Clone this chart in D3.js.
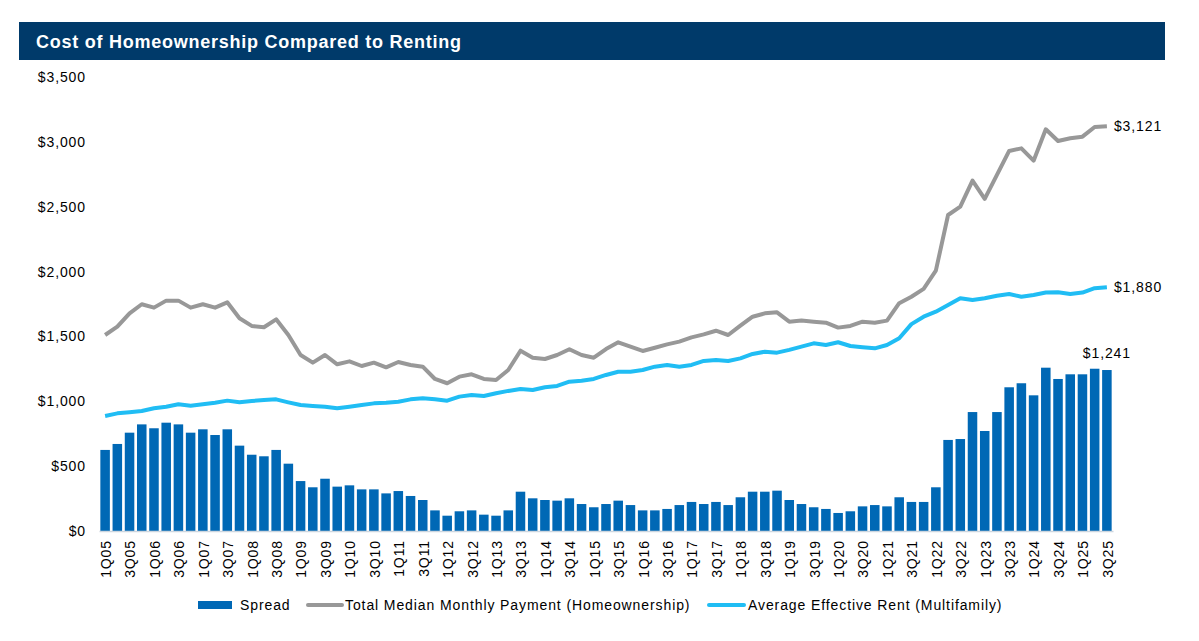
<!DOCTYPE html>
<html>
<head>
<meta charset="utf-8">
<script src="https://cdn.jsdelivr.net/npm/d3@7"></script>
<style>
  body { margin: 0; background: #fff; }
  text { font-family: "Liberation Sans", Arial, sans-serif; }
</style>
</head>
<body>
<div class="chart"></div>
<script>
// quarters 1Q05 .. 3Q25
var quarters = [
    '1Q05','2Q05','3Q05','4Q05','1Q06','2Q06','3Q06','4Q06','1Q07','2Q07','3Q07','4Q07',
    '1Q08','2Q08','3Q08','4Q08','1Q09','2Q09','3Q09','4Q09','1Q10','2Q10','3Q10','4Q10',
    '1Q11','2Q11','3Q11','4Q11','1Q12','2Q12','3Q12','4Q12','1Q13','2Q13','3Q13','4Q13',
    '1Q14','2Q14','3Q14','4Q14','1Q15','2Q15','3Q15','4Q15','1Q16','2Q16','3Q16','4Q16',
    '1Q17','2Q17','3Q17','4Q17','1Q18','2Q18','3Q18','4Q18','1Q19','2Q19','3Q19','4Q19',
    '1Q20','2Q20','3Q20','4Q20','1Q21','2Q21','3Q21','4Q21','1Q22','2Q22','3Q22','4Q22',
    '1Q23','2Q23','3Q23','4Q23','1Q24','2Q24','3Q24','4Q24','1Q25','2Q25','3Q25'
];

var spread = [
    625, 671, 758, 822, 792, 835, 822, 758, 784, 740, 784, 658,
    588, 576, 625, 519, 385, 337, 403, 342, 352, 321, 321, 290,
    308, 270, 239, 159, 118, 152, 159, 126, 118, 159, 303, 252,
    239, 234, 252, 208, 183, 208, 234, 200, 159, 159, 170, 200,
    224, 208, 224, 200, 260, 303, 303, 311, 239, 208, 183, 170,
    139, 152, 190, 200, 190, 260, 224, 224, 337, 702, 709, 917,
    771, 917, 1108, 1139, 1046, 1259, 1172, 1208, 1208, 1251, 1241
];

var payment = [
    1511, 1575, 1678, 1748, 1722, 1776, 1776, 1722, 1748, 1722, 1763, 1640,
    1581, 1571, 1632, 1511, 1357, 1298, 1357, 1285, 1308, 1272, 1298, 1262,
    1303, 1280, 1267, 1172, 1139, 1190, 1208, 1172, 1164, 1241, 1390, 1336,
    1326, 1357, 1401, 1357, 1336, 1403, 1455, 1421, 1388, 1413, 1439, 1460,
    1493, 1516, 1544, 1511, 1583, 1652, 1678, 1686, 1614, 1622, 1614, 1606,
    1568, 1581, 1614, 1606, 1622, 1756, 1806, 1867, 2007, 2436, 2500, 2701,
    2560, 2745, 2930, 2950, 2855, 3097, 3007, 3028, 3040, 3115, 3121
];

var rent = [
    887, 907, 915, 925, 946, 958, 977, 966, 977, 989, 1005, 992,
    1002, 1010, 1015, 992, 971, 964, 958, 946, 958, 971, 984, 989,
    997, 1015, 1023, 1015, 1005, 1036, 1049, 1041, 1062, 1080, 1095, 1087,
    1108, 1118, 1151, 1159, 1172, 1203, 1228, 1228, 1241, 1267, 1280, 1267,
    1280, 1311, 1318, 1311, 1331, 1365, 1382, 1375, 1396, 1421, 1447, 1434,
    1455, 1426, 1416, 1408, 1434, 1486, 1595, 1652, 1691, 1742, 1795, 1781,
    1794, 1814, 1827, 1806, 1820, 1838, 1840, 1827, 1838, 1872, 1880
];

var yTicks = [0, 500, 1000, 1500, 2000, 2500, 3000, 3500];
var seriesNames = ['Spread', 'Total Median Monthly Payment (Homeownership)', 'Average Effective Rent (Multifamily)'];

var W = 1199, H = 641;
var colors = { bar: '#0068b5', pay: '#989898', rent: '#20bdf4', header: '#003a6a' };
var FS = 14, LS = '0.9px';

var svg = d3.select('.chart')
    .append('svg')
    .attr('width', W)
    .attr('height', H);

// title band
svg.append('rect')
    .attr('x', 19).attr('y', 22)
    .attr('width', 1146).attr('height', 38)
    .attr('fill', colors.header);
svg.append('text')
    .attr('x', 36).attr('y', 48)
    .attr('fill', '#fff')
    .attr('font-size', 18)
    .attr('font-weight', 'bold')
    .attr('letter-spacing', '0.75px')
    .text('Cost of Homeownership Compared to Renting');

var x = d3.scaleBand()
    .domain(quarters)
    .range([99, 1113])
    .paddingInner(0.22)
    .paddingOuter(0.11);

var y = d3.scaleLinear()
    .domain([0, 3500])
    .range([531, 77]);

var cx = d => x(d) + x.bandwidth() / 2;

// y axis (labels only)
var yAxis = svg.append('g')
    .attr('transform', 'translate(86,0)')
    .call(d3.axisLeft(y).tickValues(yTicks).tickSize(0).tickPadding(0)
        .tickFormat(d => '$' + d3.format(',')(d)));
yAxis.select('.domain').remove();
yAxis.selectAll('text')
    .attr('font-size', FS)
    .attr('letter-spacing', LS)
    .attr('fill', '#000')
    .style('font-family', '"Liberation Sans", Arial, sans-serif');

// bars
svg.append('g')
    .selectAll('rect')
    .data(spread)
    .enter()
    .append('rect')
    .attr('x', (d, i) => x(quarters[i]))
    .attr('width', x.bandwidth())
    .attr('y', d => y(d))
    .attr('height', d => y(0) - y(d))
    .attr('fill', colors.bar);

// x axis
var xAxis = svg.append('g')
    .attr('transform', 'translate(0,531)')
    .call(d3.axisBottom(x)
        .tickValues(quarters.filter((q, i) => i % 2 === 0))
        .tickSize(0).tickPadding(0));
xAxis.select('.domain')
    .attr('stroke', '#cdd6df')
    .attr('stroke-width', 1.5);
xAxis.selectAll('text')
    .attr('font-size', FS)
    .attr('letter-spacing', LS)
    .attr('fill', '#000')
    .style('font-family', '"Liberation Sans", Arial, sans-serif')
    .attr('text-anchor', 'end')
    .attr('dy', '0.35em')
    .attr('transform', 'translate(1,9) rotate(-90)');

// lines
var line = d3.line()
    .x((d, i) => cx(quarters[i]))
    .y(d => y(d));

svg.append('path')
    .datum(payment)
    .attr('d', line)
    .attr('fill', 'none')
    .attr('stroke', colors.pay)
    .attr('stroke-width', 4)
    .attr('stroke-linejoin', 'round');

svg.append('path')
    .datum(rent)
    .attr('d', line)
    .attr('fill', 'none')
    .attr('stroke', colors.rent)
    .attr('stroke-width', 4)
    .attr('stroke-linejoin', 'round');

// end labels
var last = quarters.length - 1;
var fmt = d => '$' + d3.format(',')(d);
svg.append('text')
    .attr('x', cx(quarters[last]) + 7).attr('y', y(payment[last]))
    .attr('dy', '0.35em').attr('font-size', FS).attr('letter-spacing', LS)
    .text(fmt(payment[last]));
svg.append('text')
    .attr('x', cx(quarters[last]) + 7).attr('y', y(rent[last]))
    .attr('dy', '0.35em').attr('font-size', FS).attr('letter-spacing', LS)
    .text(fmt(rent[last]));
svg.append('text')
    .attr('x', cx(quarters[last])).attr('y', y(spread[last]) - 12)
    .attr('text-anchor', 'middle').attr('font-size', FS).attr('letter-spacing', LS)
    .text(fmt(spread[last]));

// legend
var legend = svg.append('g').attr('transform', 'translate(0,605)');
legend.append('rect')
    .attr('x', 198).attr('y', -4).attr('width', 34).attr('height', 8)
    .attr('fill', colors.bar);
legend.append('text')
    .attr('x', 240).attr('dy', '0.35em').attr('font-size', FS).attr('letter-spacing', LS)
    .text(seriesNames[0]);
legend.append('line')
    .attr('x1', 308).attr('x2', 342)
    .attr('stroke', colors.pay).attr('stroke-width', 4).attr('stroke-linecap', 'round');
legend.append('text')
    .attr('x', 345).attr('dy', '0.35em').attr('font-size', FS).attr('letter-spacing', LS)
    .text(seriesNames[1]);
legend.append('line')
    .attr('x1', 709).attr('x2', 744)
    .attr('stroke', colors.rent).attr('stroke-width', 4).attr('stroke-linecap', 'round');
legend.append('text')
    .attr('x', 748).attr('dy', '0.35em').attr('font-size', FS).attr('letter-spacing', LS)
    .text(seriesNames[2]);
</script>
</body>
</html>
